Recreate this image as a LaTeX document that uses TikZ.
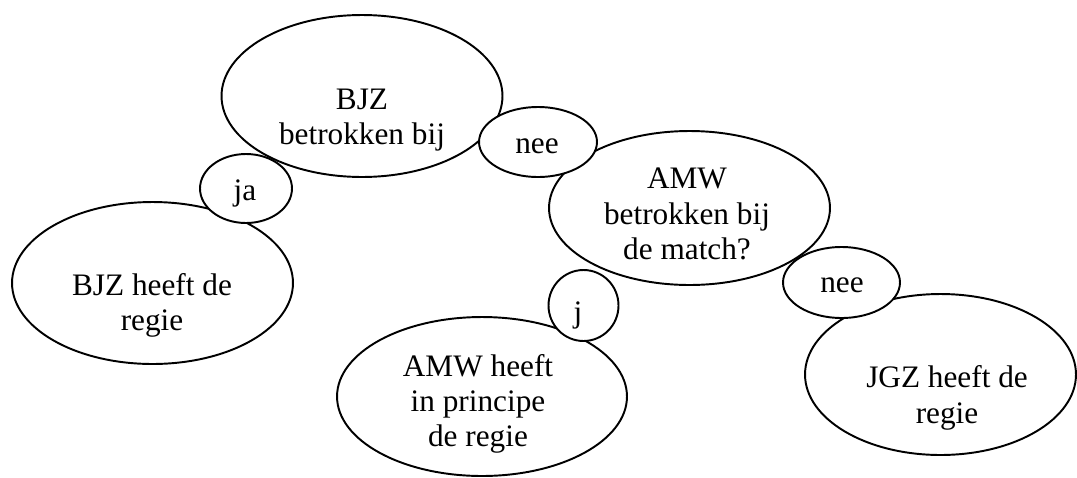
\documentclass[tikz,border=0pt]{standalone}
\usepackage{fontspec}
\setmainfont{Liberation Serif}
\usetikzlibrary{shapes.geometric}

\tikzset{
  oval/.style={ellipse,draw,fill=white,line width=1.1pt,inner sep=0pt},
  bigoval/.style={oval,minimum width=5.62cm},
  txt/.style={align=center,inner sep=0pt,font=\fontsize{17.8}{20.1}\selectfont}
}

\begin{document}
\begin{tikzpicture}[x=0.02cm,y=-0.02cm]
			\useasboundingbox (0,0) rectangle (1077,477);
			
			% big ovals
			\node [bigoval,minimum height=3.24cm] (bjzq) at (362,96) {};
			\node [bigoval,minimum height=3.24cm] (bjzr) at (152.5,283) {};
			\node [bigoval,minimum height=3.08cm] (amwq) at (689.5,208) {};
			\node [bigoval,minimum width=5.8cm,minimum height=3.18cm] (amwr) at (482,396.5) {};
			\node [bigoval,minimum width=5.42cm,minimum height=3.22cm] (jgzr) at (940.5,374.5) {};
			
			% small answer ovals
			\node [oval,minimum width=1.84cm,minimum height=1.38cm] (ja) at (246,188.5) {};
			\node [oval,minimum width=2.36cm,minimum height=1.4cm] (neea) at (538,142) {};
			\node [oval,minimum width=1.4cm,minimum height=1.42cm] (j) at (583.5,305.5) {};
			\node [oval,minimum width=2.34cm,minimum height=1.42cm] (neeb) at (841.5,282.5) {};
			
			% texts
			\node [txt] (tbjzq) at (362,120) {BJZ\\betrokken bij};
			\node [txt] (tbjzr) at (152,305.5) {BJZ heeft de\\regie};
			\node [txt] (tamwq) at (687,214) {AMW\\betrokken bij\\de match?};
			\node [txt] (tamwr) at (478,404) {AMW heeft\\in principe\\de regie};
			\node [txt] (tjgzr) at (947,398) {JGZ heeft de\\regie};
			\node [txt,anchor=base] (tja) at (245,200) {ja};
			\node [txt,anchor=base] (tneea) at (537,153) {nee};
			\node [txt,anchor=base] (tj) at (578,322) {j};
			\node [txt,anchor=base] (tneeb) at (842,292) {nee};
			\end{tikzpicture}
\end{document}
